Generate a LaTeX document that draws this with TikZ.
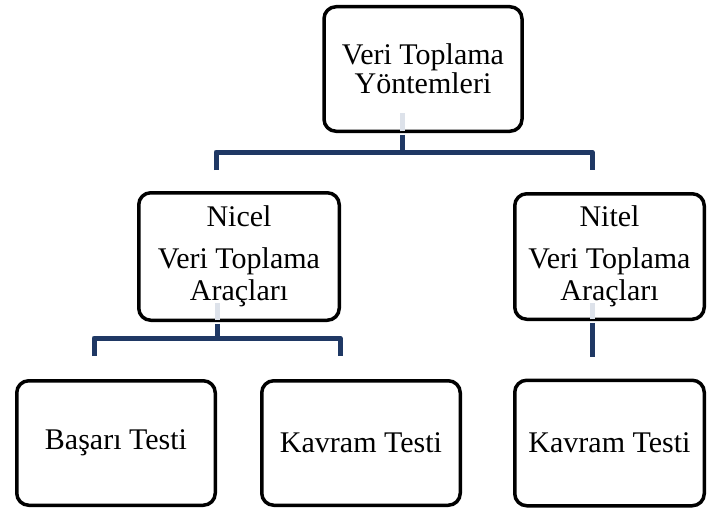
\documentclass[tikz,border=0pt]{standalone}
\usepackage{fontspec}
\setmainfont{Liberation Serif}
\definecolor{linkblue}{HTML}{1F3864}
\definecolor{linkfade}{HTML}{DDE2EA}
\tikzset{
  box/.style={draw=black, line width=3.5pt, rounded corners=12pt, fill=white,
    align=center, inner sep=0pt, font=\fontsize{30}{32}\selectfont},
  link/.style={draw=linkblue, line width=5pt, line join=round},
  fade/.style={draw=linkfade, line width=5pt},
}
\begin{document}
\begin{tikzpicture}[x=1pt,y=-1pt]
\useasboundingbox (0,0) rectangle (707,511);

% junction points of the tree connectors
\coordinate (j0) at (402,152);
\coordinate (jL) at (216,152);
\coordinate (jR) at (592,152);
\coordinate (eL) at (216,170);
\coordinate (eR) at (592,170);
\coordinate (k0) at (217,338);
\coordinate (kL) at (94,338);
\coordinate (kR) at (340,338);
\coordinate (fL) at (94,356);
\coordinate (fR) at (340,356);
\coordinate (m0) at (592,357);

% boxes
\node[box, minimum width=198pt, minimum height=124.5pt] (top) at (423,69)
  {Veri Toplama\\[-3pt]Yöntemleri};
\node[box, minimum width=200.5pt, minimum height=127.5pt] (nicel) at (239,256.5)
  {Nicel\\[10pt]Veri Toplama\\Araçları};
\node[box, minimum width=189.5pt, minimum height=125.5pt] (nitel) at (609.5,256.5)
  {Nitel\\[10pt]Veri Toplama\\Araçları};
\node[box, minimum width=198.5pt, minimum height=124.5pt] (basari) at (116,443)
  {Başarı Testi};
\node[box, minimum width=198.5pt, minimum height=124.5pt] (kavramA) at (361,443)
  {Kavram Testi};
\node[box, minimum width=189.5pt, minimum height=125.5pt] (kavramB) at (609.5,443)
  {Kavram Testi};

% connectors
\draw[link] ([yshift=-1.75pt]top.south -| j0) -- (j0);
\draw[link] (eL) -- (jL) -- (jR) -- (eR);
\draw[link] ([yshift=-1.75pt]nicel.south -| k0) -- (k0);
\draw[link] (fL) -- (kL) -- (kR) -- (fR);
\draw[link] ([yshift=-1.75pt]nitel.south -| m0) -- (m0);

% pale continuations of the connectors inside the boxes
\draw[fade] ([yshift=1.75pt]top.south -| j0) -- ([yshift=20pt]top.south -| j0);
\draw[fade] ([yshift=1.75pt]nicel.south -| k0) -- ([yshift=19pt]nicel.south -| k0);
\draw[fade] ([yshift=1.75pt]nitel.south -| m0) -- ([yshift=18pt]nitel.south -| m0);
\end{tikzpicture}
\end{document}
